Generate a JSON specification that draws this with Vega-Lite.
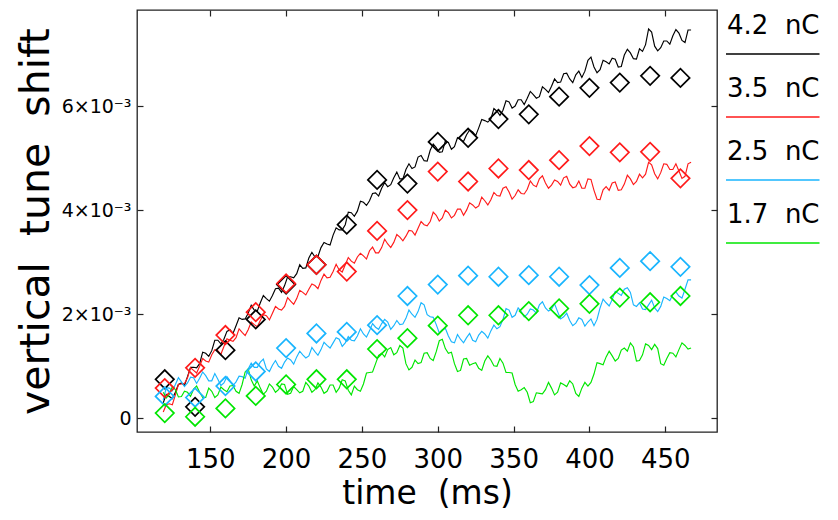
{
  "$schema": "https://vega.github.io/schema/vega-lite/v6.json",
  "width": 580,
  "height": 422,
  "autosize": {"type": "none"},
  "padding": {"left": 137, "top": 10, "right": 121, "bottom": 88},
  "background": "white",
  "config": {
    "view": {"stroke": "#222", "strokeWidth": 1.3},
    "font": "DejaVu Sans",
    "axis": {"labelColor": "black", "titleColor": "black", "titleFontWeight": "normal", "tickColor": "#222", "tickWidth": 1.2, "grid": false, "domain": false}
  },
  "datasets": {
    "lines": [
      {"t":119,"q42":0.0003,"q35":0.00012,"q25":0.00035,"q17":0.0005},
      {"t":123,"q42":0.00042,"q35":0.00028,"q25":0.00058,"q17":0.00046},
      {"t":127,"q42":0.0005,"q35":0.00045,"q25":0.00065,"q17":0.00055},
      {"t":131,"q42":0.00068,"q35":0.00066,"q25":0.0007,"q17":0.00042},
      {"t":135,"q42":0.0008,"q35":0.00078,"q25":0.00068,"q17":0.0005},
      {"t":139,"q42":0.00098,"q35":0.00092,"q25":0.00078,"q17":0.00056},
      {"t":143,"q42":0.00105,"q35":0.001,"q25":0.00077,"q17":0.0005},
      {"t":147,"q42":0.00125,"q35":0.0011,"q25":0.00082,"q17":0.0004},
      {"t":151,"q42":0.0013,"q35":0.00122,"q25":0.00072,"q17":0.00052},
      {"t":155,"q42":0.0015,"q35":0.0013,"q25":0.00075,"q17":0.00045},
      {"t":159,"q42":0.00152,"q35":0.00138,"q25":0.00068,"q17":0.00055},
      {"t":163,"q42":0.0017,"q35":0.0015,"q25":0.00072,"q17":0.00062},
      {"t":167,"q42":0.00178,"q35":0.00155,"q25":0.0007,"q17":0.00052},
      {"t":171,"q42":0.0019,"q35":0.00165,"q25":0.0008,"q17":0.00065},
      {"t":175,"q42":0.00202,"q35":0.0017,"q25":0.00095,"q17":0.00095},
      {"t":179,"q42":0.00208,"q35":0.0018,"q25":0.00098,"q17":0.00062},
      {"t":183,"q42":0.00222,"q35":0.00188,"q25":0.00108,"q17":0.00058},
      {"t":187,"q42":0.0023,"q35":0.00197,"q25":0.00095,"q17":0.00052},
      {"t":191,"q42":0.00236,"q35":0.00202,"q25":0.00102,"q17":0.0006},
      {"t":195,"q42":0.0025,"q35":0.0021,"q25":0.001,"q17":0.00055},
      {"t":199,"q42":0.00255,"q35":0.00215,"q25":0.00108,"q17":0.00065},
      {"t":203,"q42":0.00272,"q35":0.00225,"q25":0.00112,"q17":0.00048},
      {"t":207,"q42":0.00278,"q35":0.0023,"q25":0.00118,"q17":0.00055},
      {"t":211,"q42":0.00288,"q35":0.00242,"q25":0.00122,"q17":0.00052},
      {"t":215,"q42":0.00308,"q35":0.00248,"q25":0.0012,"q17":0.00062},
      {"t":219,"q42":0.0031,"q35":0.00255,"q25":0.00128,"q17":0.00055},
      {"t":223,"q42":0.00328,"q35":0.00265,"q25":0.00132,"q17":0.0006},
      {"t":227,"q42":0.00335,"q35":0.0027,"q25":0.0014,"q17":0.00052},
      {"t":231,"q42":0.00352,"q35":0.00282,"q25":0.00145,"q17":0.00064},
      {"t":235,"q42":0.00362,"q35":0.00285,"q25":0.00152,"q17":0.00058},
      {"t":239,"q42":0.00372,"q35":0.00295,"q25":0.00145,"q17":0.00072},
      {"t":243,"q42":0.00395,"q35":0.00302,"q25":0.0015,"q17":0.00045},
      {"t":247,"q42":0.00398,"q35":0.0031,"q25":0.00158,"q17":0.00055},
      {"t":251,"q42":0.00415,"q35":0.00312,"q25":0.00162,"q17":0.00066},
      {"t":255,"q42":0.00418,"q35":0.00322,"q25":0.00168,"q17":0.00088},
      {"t":259,"q42":0.00433,"q35":0.00318,"q25":0.00175,"q17":0.00105},
      {"t":263,"q42":0.00442,"q35":0.00328,"q25":0.00182,"q17":0.00125},
      {"t":267,"q42":0.00445,"q35":0.00335,"q25":0.00185,"q17":0.00132},
      {"t":271,"q42":0.00462,"q35":0.00338,"q25":0.00178,"q17":0.00122},
      {"t":275,"q42":0.0046,"q35":0.00348,"q25":0.0018,"q17":0.0014},
      {"t":279,"q42":0.00478,"q35":0.0035,"q25":0.00192,"q17":0.00105},
      {"t":283,"q42":0.0048,"q35":0.0036,"q25":0.002,"q17":0.00098},
      {"t":287,"q42":0.00502,"q35":0.00365,"q25":0.00205,"q17":0.00105},
      {"t":291,"q42":0.00495,"q35":0.00372,"q25":0.00218,"q17":0.00125},
      {"t":295,"q42":0.00515,"q35":0.00378,"q25":0.00195,"q17":0.00115},
      {"t":299,"q42":0.0052,"q35":0.0039,"q25":0.0018,"q17":0.00128},
      {"t":303,"q42":0.00512,"q35":0.00385,"q25":0.0017,"q17":0.00152},
      {"t":307,"q42":0.0053,"q35":0.00395,"q25":0.00158,"q17":0.00125},
      {"t":311,"q42":0.00522,"q35":0.0039,"q25":0.00145,"q17":0.00105},
      {"t":315,"q42":0.00535,"q35":0.00402,"q25":0.00152,"q17":0.00092},
      {"t":319,"q42":0.00545,"q35":0.004,"q25":0.00155,"q17":0.00115},
      {"t":323,"q42":0.0055,"q35":0.0041,"q25":0.0015,"q17":0.00105},
      {"t":327,"q42":0.00558,"q35":0.00408,"q25":0.0016,"q17":0.00096},
      {"t":331,"q42":0.00572,"q35":0.00418,"q25":0.00162,"q17":0.0011},
      {"t":335,"q42":0.00575,"q35":0.0042,"q25":0.00168,"q17":0.00112},
      {"t":339,"q42":0.0059,"q35":0.00428,"q25":0.00172,"q17":0.001},
      {"t":343,"q42":0.00592,"q35":0.00442,"q25":0.0019,"q17":0.00106},
      {"t":347,"q42":0.00608,"q35":0.00435,"q25":0.00208,"q17":0.00088},
      {"t":351,"q42":0.006,"q35":0.00428,"q25":0.00198,"q17":0.00065},
      {"t":355,"q42":0.00612,"q35":0.00432,"q25":0.00205,"q17":0.00055},
      {"t":359,"q42":0.00615,"q35":0.0044,"q25":0.002,"q17":0.0005},
      {"t":363,"q42":0.00622,"q35":0.00448,"q25":0.00208,"q17":0.00032},
      {"t":367,"q42":0.00618,"q35":0.0046,"q25":0.00218,"q17":0.00048},
      {"t":371,"q42":0.00632,"q35":0.00452,"q25":0.00212,"q17":0.00055},
      {"t":375,"q42":0.00638,"q35":0.00448,"q25":0.0021,"q17":0.00058},
      {"t":379,"q42":0.00645,"q35":0.00455,"q25":0.00205,"q17":0.0005},
      {"t":383,"q42":0.00662,"q35":0.00462,"q25":0.00195,"q17":0.00065},
      {"t":387,"q42":0.00652,"q35":0.0045,"q25":0.00188,"q17":0.00072},
      {"t":391,"q42":0.0066,"q35":0.00445,"q25":0.00183,"q17":0.00048},
      {"t":395,"q42":0.00655,"q35":0.00442,"q25":0.0019,"q17":0.00058},
      {"t":399,"q42":0.00688,"q35":0.0046,"q25":0.00185,"q17":0.00062},
      {"t":403,"q42":0.00675,"q35":0.00438,"q25":0.00178,"q17":0.00085},
      {"t":407,"q42":0.0067,"q35":0.0042,"q25":0.00212,"q17":0.00105},
      {"t":411,"q42":0.00685,"q35":0.00445,"q25":0.00222,"q17":0.00118},
      {"t":415,"q42":0.00692,"q35":0.00452,"q25":0.00228,"q17":0.0012},
      {"t":419,"q42":0.00675,"q35":0.00438,"q25":0.0024,"q17":0.00115},
      {"t":423,"q42":0.00698,"q35":0.0045,"q25":0.00248,"q17":0.00135},
      {"t":427,"q42":0.00702,"q35":0.0046,"q25":0.00242,"q17":0.00145},
      {"t":431,"q42":0.0069,"q35":0.00455,"q25":0.00215,"q17":0.0011},
      {"t":435,"q42":0.00705,"q35":0.00462,"q25":0.0021,"q17":0.00122},
      {"t":439,"q42":0.00748,"q35":0.00492,"q25":0.00218,"q17":0.0014},
      {"t":443,"q42":0.00715,"q35":0.0047,"q25":0.00212,"q17":0.00142},
      {"t":447,"q42":0.00712,"q35":0.00472,"q25":0.00215,"q17":0.00105},
      {"t":451,"q42":0.00725,"q35":0.00488,"q25":0.0023,"q17":0.00115},
      {"t":455,"q42":0.00735,"q35":0.00478,"q25":0.00238,"q17":0.00125},
      {"t":459,"q42":0.0074,"q35":0.00475,"q25":0.00235,"q17":0.00132},
      {"t":463,"q42":0.00722,"q35":0.00465,"q25":0.00248,"q17":0.0014},
      {"t":467,"q42":0.00746,"q35":0.00492,"q25":0.00266,"q17":0.00135},
      {"t":121,"q42":0.00046,"q35":0.00026,"q25":0.00059,"q17":0.00039},
      {"t":125,"q42":0.00038,"q35":0.00026,"q25":0.00053,"q17":0.00061},
      {"t":129,"q42":0.00065,"q35":0.00065,"q25":0.00078,"q17":0.00041},
      {"t":133,"q42":0.00063,"q35":0.00067,"q25":0.00061,"q17":0.00052},
      {"t":137,"q42":0.00098,"q35":0.00097,"q25":0.00079,"q17":0.00042},
      {"t":141,"q42":0.00097,"q35":0.00087,"q25":0.00067,"q17":0.00062},
      {"t":145,"q42":0.00127,"q35":0.00115,"q25":0.00089,"q17":0.0004},
      {"t":149,"q42":0.00119,"q35":0.00108,"q25":0.00072,"q17":0.00058},
      {"t":153,"q42":0.0015,"q35":0.00132,"q25":0.00086,"q17":0.0004},
      {"t":157,"q42":0.00143,"q35":0.00123,"q25":0.00063,"q17":0.0006},
      {"t":161,"q42":0.00167,"q35":0.00153,"q25":0.0008,"q17":0.00051},
      {"t":165,"q42":0.00163,"q35":0.00148,"q25":0.00063,"q17":0.00063},
      {"t":169,"q42":0.00193,"q35":0.00172,"q25":0.00081,"q17":0.00048},
      {"t":173,"q42":0.00191,"q35":0.00159,"q25":0.00077,"q17":0.00089},
      {"t":177,"q42":0.00217,"q35":0.00185,"q25":0.00106,"q17":0.00074},
      {"t":181,"q42":0.00206,"q35":0.00176,"q25":0.00098,"q17":0.00072},
      {"t":185,"q42":0.00236,"q35":0.00199,"q25":0.00114,"q17":0.00046},
      {"t":189,"q42":0.00225,"q35":0.00189,"q25":0.0009,"q17":0.00066},
      {"t":193,"q42":0.00249,"q35":0.00215,"q25":0.00111,"q17":0.0005},
      {"t":197,"q42":0.00242,"q35":0.00208,"q25":0.00096,"q17":0.00066},
      {"t":201,"q42":0.00272,"q35":0.00232,"q25":0.00116,"q17":0.00046},
      {"t":205,"q42":0.0027,"q35":0.00219,"q25":0.00104,"q17":0.00061},
      {"t":209,"q42":0.00295,"q35":0.00246,"q25":0.00129,"q17":0.00049},
      {"t":213,"q42":0.00289,"q35":0.00237,"q25":0.00116,"q17":0.00069},
      {"t":217,"q42":0.00319,"q35":0.00258,"q25":0.00136,"q17":0.0005},
      {"t":221,"q42":0.00311,"q35":0.00249,"q25":0.00121,"q17":0.00068},
      {"t":225,"q42":0.00338,"q35":0.00277,"q25":0.00146,"q17":0.00048},
      {"t":229,"q42":0.00333,"q35":0.00271,"q25":0.00135,"q17":0.00064},
      {"t":233,"q42":0.00366,"q35":0.00296,"q25":0.00155,"q17":0.0005},
      {"t":237,"q42":0.00362,"q35":0.00281,"q25":0.00138,"q17":0.00074},
      {"t":241,"q42":0.00396,"q35":0.00309,"q25":0.00157,"q17":0.00054},
      {"t":245,"q42":0.00388,"q35":0.00298,"q25":0.00149,"q17":0.00062},
      {"t":249,"q42":0.00417,"q35":0.00317,"q25":0.00172,"q17":0.00052},
      {"t":253,"q42":0.00409,"q35":0.00306,"q25":0.00156,"q17":0.00087},
      {"t":257,"q42":0.00432,"q35":0.00329,"q25":0.00182,"q17":0.00089},
      {"t":261,"q42":0.00427,"q35":0.00318,"q25":0.00171,"q17":0.00121},
      {"t":265,"q42":0.00453,"q35":0.00344,"q25":0.0019,"q17":0.00118},
      {"t":269,"q42":0.00449,"q35":0.00328,"q25":0.00171,"q17":0.00136},
      {"t":273,"q42":0.00473,"q35":0.00353,"q25":0.00188,"q17":0.00126},
      {"t":277,"q42":0.0046,"q35":0.00341,"q25":0.00181,"q17":0.00135},
      {"t":281,"q42":0.00489,"q35":0.00361,"q25":0.00208,"q17":0.00093},
      {"t":285,"q42":0.00483,"q35":0.00352,"q25":0.00194,"q17":0.00112},
      {"t":289,"q42":0.00505,"q35":0.00378,"q25":0.00222,"q17":0.00107},
      {"t":293,"q42":0.00494,"q35":0.0037,"q25":0.00199,"q17":0.00126},
      {"t":297,"q42":0.00527,"q35":0.00396,"q25":0.00194,"q17":0.00111},
      {"t":301,"q42":0.00511,"q35":0.00379,"q25":0.00164,"q17":0.00149},
      {"t":305,"q42":0.00533,"q35":0.004,"q25":0.00173,"q17":0.00134},
      {"t":309,"q42":0.00517,"q35":0.00385,"q25":0.00147,"q17":0.00127},
      {"t":313,"q42":0.00539,"q35":0.00402,"q25":0.00161,"q17":0.0009},
      {"t":317,"q42":0.00532,"q35":0.0039,"q25":0.00145,"q17":0.00114},
      {"t":321,"q42":0.00554,"q35":0.00414,"q25":0.00163,"q17":0.00102},
      {"t":325,"q42":0.00543,"q35":0.00404,"q25":0.00147,"q17":0.00107},
      {"t":329,"q42":0.00574,"q35":0.00425,"q25":0.00167,"q17":0.00092},
      {"t":333,"q42":0.00569,"q35":0.0041,"q25":0.00154,"q17":0.0012},
      {"t":337,"q42":0.00595,"q35":0.00434,"q25":0.00179,"q17":0.00101},
      {"t":341,"q42":0.00582,"q35":0.00427,"q25":0.00176,"q17":0.00115},
      {"t":345,"q42":0.0061,"q35":0.00445,"q25":0.00211,"q17":0.00088},
      {"t":349,"q42":0.00596,"q35":0.00421,"q25":0.00194,"q17":0.00087},
      {"t":353,"q42":0.00612,"q35":0.00439,"q25":0.00212,"q17":0.00052},
      {"t":357,"q42":0.00603,"q35":0.00431,"q25":0.00195,"q17":0.00059},
      {"t":361,"q42":0.00628,"q35":0.00456,"q25":0.0021,"q17":0.0003},
      {"t":365,"q42":0.00615,"q35":0.00445,"q25":0.00202,"q17":0.00049},
      {"t":369,"q42":0.00637,"q35":0.00466,"q25":0.00224,"q17":0.00047},
      {"t":373,"q42":0.00626,"q35":0.00442,"q25":0.00206,"q17":0.00069},
      {"t":377,"q42":0.00652,"q35":0.00458,"q25":0.0022,"q17":0.00045},
      {"t":381,"q42":0.00646,"q35":0.00448,"q25":0.00191,"q17":0.00068},
      {"t":385,"q42":0.00663,"q35":0.00465,"q25":0.00202,"q17":0.00061},
      {"t":389,"q42":0.00645,"q35":0.00443,"q25":0.00178,"q17":0.00066},
      {"t":393,"q42":0.00667,"q35":0.00456,"q25":0.00193,"q17":0.00042},
      {"t":397,"q42":0.00667,"q35":0.00442,"q25":0.00177,"q17":0.00069},
      {"t":401,"q42":0.00694,"q35":0.00459,"q25":0.00191,"q17":0.00069},
      {"t":405,"q42":0.00664,"q35":0.00421,"q25":0.0019,"q17":0.00107},
      {"t":409,"q42":0.00688,"q35":0.00439,"q25":0.00229,"q17":0.00103},
      {"t":413,"q42":0.00681,"q35":0.00438,"q25":0.00216,"q17":0.00129},
      {"t":417,"q42":0.0069,"q35":0.00454,"q25":0.00244,"q17":0.0011},
      {"t":421,"q42":0.00676,"q35":0.00439,"q25":0.00236,"q17":0.00131},
      {"t":425,"q42":0.00709,"q35":0.00467,"q25":0.00251,"q17":0.00129},
      {"t":429,"q42":0.00691,"q35":0.00449,"q25":0.00218,"q17":0.00137},
      {"t":433,"q42":0.0071,"q35":0.00469,"q25":0.00222,"q17":0.00111},
      {"t":437,"q42":0.00718,"q35":0.00469,"q25":0.00209,"q17":0.00143},
      {"t":441,"q42":0.00742,"q35":0.00487,"q25":0.00227,"q17":0.00132},
      {"t":445,"q42":0.00706,"q35":0.0046,"q25":0.00205,"q17":0.00134},
      {"t":449,"q42":0.00725,"q35":0.00489,"q25":0.00233,"q17":0.00102},
      {"t":453,"q42":0.00719,"q35":0.00478,"q25":0.00226,"q17":0.00126},
      {"t":457,"q42":0.00747,"q35":0.00489,"q25":0.00243,"q17":0.00118},
      {"t":461,"q42":0.00726,"q35":0.00461,"q25":0.00231,"q17":0.00145},
      {"t":465,"q42":0.00746,"q35":0.00489,"q25":0.00266,"q17":0.00133}
    ],
    "diamonds": [
      {"t":120,"q42":0.00075,"q35":0.00058,"q25":0.00042,"q17":0.0001},
      {"t":140,"q42":0.00022,"q35":0.00097,"q25":0.0004,"q17":0.00003},
      {"t":160,"q42":0.00131,"q35":0.0016,"q25":0.00062,"q17":0.00019},
      {"t":180,"q42":0.0019,"q35":0.00204,"q25":0.0009,"q17":0.00043},
      {"t":200,"q42":0.00257,"q35":0.00259,"q25":0.00135,"q17":0.00065},
      {"t":220,"q42":0.00295,"q35":0.00295,"q25":0.00163,"q17":0.00075},
      {"t":240,"q42":0.00372,"q35":0.00282,"q25":0.00166,"q17":0.00075},
      {"t":260,"q42":0.00458,"q35":0.0036,"q25":0.00179,"q17":0.00133},
      {"t":280,"q42":0.00451,"q35":0.004,"q25":0.00235,"q17":0.00154},
      {"t":300,"q42":0.00531,"q35":0.00474,"q25":0.00257,"q17":0.00178},
      {"t":320,"q42":0.00539,"q35":0.00455,"q25":0.00274,"q17":0.00198},
      {"t":340,"q42":0.00575,"q35":0.0048,"q25":0.00272,"q17":0.00198},
      {"t":360,"q42":0.00584,"q35":0.00477,"q25":0.00275,"q17":0.00206},
      {"t":380,"q42":0.00618,"q35":0.00496,"q25":0.00272,"q17":0.00211},
      {"t":400,"q42":0.00635,"q35":0.00523,"q25":0.00256,"q17":0.0022},
      {"t":420,"q42":0.00645,"q35":0.00511,"q25":0.00289,"q17":0.00232},
      {"t":440,"q42":0.00658,"q35":0.00512,"q25":0.00302,"q17":0.00223},
      {"t":460,"q42":0.00654,"q35":0.00461,"q25":0.00291,"q17":0.00235}
    ]
  },
  "layer": [
    {
      "data": {"name": "lines"},
      "transform": [{"fold": ["q42", "q35", "q25", "q17"], "as": ["charge", "shift"]}],
      "mark": {"type": "line", "strokeWidth": 1.15},
      "encoding": {
        "x": {
          "field": "t", "type": "quantitative",
          "scale": {"domain": [101.7, 484.1], "nice": false, "zero": false},
          "axis": {"orient": "bottom", "values": [150, 200, 250, 300, 350, 400, 450], "tickSize": -6, "labelFontSize": 26, "labelPadding": 20, "title": "time\u00a0\u00a0(ms)", "titleFontSize": 33, "titlePadding": 5}
        },
        "y": {
          "field": "shift", "type": "quantitative",
          "scale": {"domain": [-0.000263, 0.007845], "nice": false, "zero": false},
          "axis": {"orient": "left", "values": [0, 0.002, 0.004, 0.006], "tickSize": -6, "labelFontSize": 19, "labelPadding": 12, "labelExpr": "datum.value == 0 ? '0' : format(datum.value * 1000, 'd') + '×10⁻³'", "title": "vertical\u00a0\u00a0tune\u00a0\u00a0shift", "titleFontSize": 41, "titlePadding": 4}
        },
        "color": {
          "field": "charge", "type": "nominal",
          "scale": {"domain": ["q42", "q35", "q25", "q17"], "range": ["#000000", "#ff1a1a", "#19b5fe", "#00e600"]},
          "legend": {
            "orient": "none", "legendX": 588, "legendY": -7.5, "title": null, "padding": 0,
            "symbolType": "M-1,0.36H1", "symbolSize": 12321, "symbolStrokeWidth": 1.5,
            "labelOffset": -111, "labelFontSize": 26, "labelBaseline": "alphabetic", "labelColor": "black", "labelLimit": 300,
            "clipHeight": 63, "rowPadding": 0,
            "labelExpr": "{'q42': '4.2\u00a0\u00a0nC', 'q35': '3.5\u00a0\u00a0nC', 'q25': '2.5\u00a0\u00a0nC', 'q17': '1.7\u00a0\u00a0nC'}[datum.label]"
          }
        }
      }
    },
    {
      "data": {"name": "diamonds"},
      "transform": [{"fold": ["q42", "q35", "q25", "q17"], "as": ["charge", "shift"]}],
      "mark": {"type": "point", "shape": "diamond", "size": 340, "filled": false, "strokeWidth": 1.7, "opacity": 1},
      "encoding": {
        "x": {
          "field": "t", "type": "quantitative",
          "scale": {"domain": [101.7, 484.1], "nice": false, "zero": false},
          "axis": {"orient": "top", "values": [150, 200, 250, 300, 350, 400, 450], "tickSize": -6, "labels": false, "title": null}
        },
        "y": {
          "field": "shift", "type": "quantitative",
          "scale": {"domain": [-0.000263, 0.007845], "nice": false, "zero": false},
          "axis": {"orient": "right", "values": [0, 0.002, 0.004, 0.006], "tickSize": -6, "labels": false, "title": null}
        },
        "color": {"field": "charge", "type": "nominal"}
      }
    }
  ],
  "resolve": {"scale": {"x": "independent", "y": "independent"}}
}
